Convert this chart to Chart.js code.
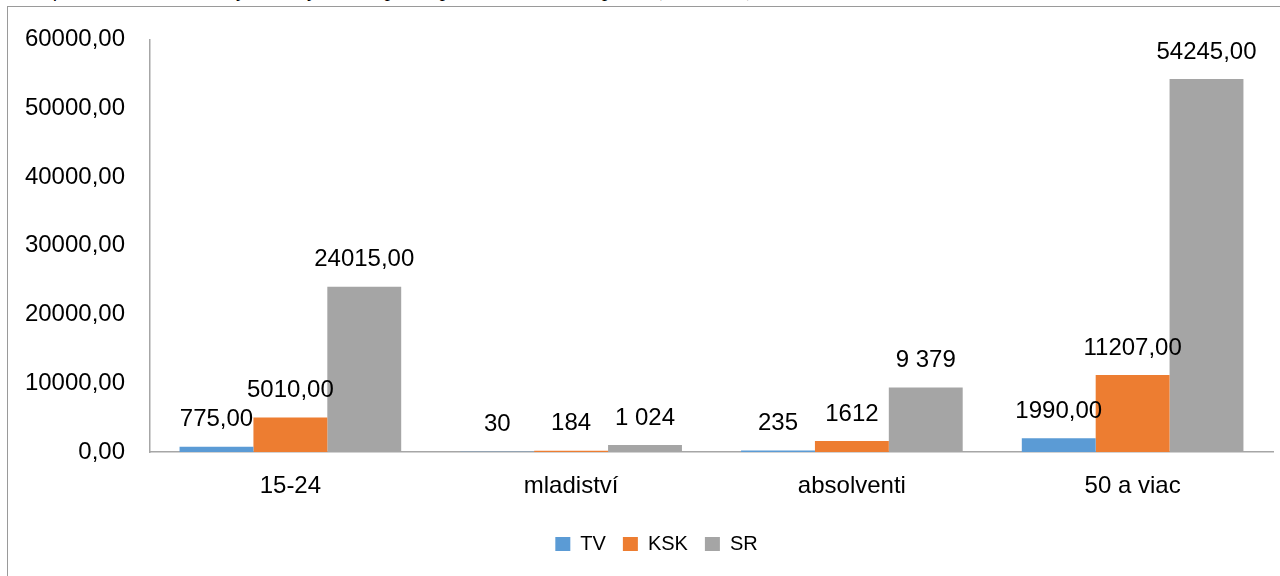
<!DOCTYPE html>
<html>
<head>
<meta charset="utf-8">
<script src="https://cdn.jsdelivr.net/npm/chart.js@4"></script>
<style>
  html, body { margin: 0; padding: 0; background: #ffffff; overflow: hidden; }
  #wrap { position: relative; width: 1280px; height: 576px; overflow: hidden; background: #fff; }
  #frame { position: absolute; left: 7px; top: 6px; width: 1400px; height: 700px;
           border-left: 1px solid #9a9a9a; border-top: 1px solid #9a9a9a; }
  #caption { position: absolute; left: 20px; top: -23px; white-space: nowrap;
             font-family: "Liberation Serif", serif; font-style: italic; font-size: 21px; color: #000; }
  #c { position: absolute; left: 0; top: 0; }
</style>
</head>
<body>
<div id="wrap">
  <div id="caption">Graf č. 7&nbsp;&nbsp;&nbsp;&nbsp;Štruktúra znevýhodnených UoZ podľa postavenia na trhu práce (v osobách)</div>
  <div id="frame"></div>
  <canvas id="c" width="1280" height="576"></canvas>
</div>
<script>
// ---- data ----
const categories = ['15-24', 'mladiství', 'absolventi', '50 a viac'];
const seriesNames = ['TV', 'KSK', 'SR'];
const tvValues  = [775, 30, 235, 1990];
const kskValues = [5010, 184, 1612, 11207];
const srValues  = [24015, 1024, 9379, 54245];
const tvLabels  = ['775,00', '30', '235', '1990,00'];
const kskLabels = ['5010,00', '184', '1612', '11207,00'];
const srLabels  = ['24015,00', '1 024', '9 379', '54245,00'];
const yMin = 0, yMax = 60000, yStep = 10000;

const colors = ['#5B9BD5', '#ED7D31', '#A5A5A5'];
const FONT = '"Liberation Sans", Arial, sans-serif';

const valueLabelPlugin = {
  id: 'valueLabels',
  afterDatasetsDraw(chart) {
    const ctx = chart.ctx;
    ctx.save();
    ctx.font = '24px ' + FONT;
    ctx.fillStyle = '#000';
    ctx.textAlign = 'center';
    ctx.textBaseline = 'middle';
    chart.data.datasets.forEach((ds, di) => {
      const meta = chart.getDatasetMeta(di);
      meta.data.forEach((el, i) => {
        ctx.fillText(ds.valueLabels[i], el.x, el.y - 27);
      });
    });
    ctx.restore();
  }
};

const legendShiftPlugin = {
  id: 'legendShift',
  afterLayout(chart) {
    if (chart.legend) {
      chart.legend.left += 20;
      chart.legend.right += 20;
    }
  }
};

new Chart(document.getElementById('c'), {
  type: 'bar',
  data: {
    labels: categories,
    datasets: [
      { label: seriesNames[0], data: tvValues,  backgroundColor: colors[0], valueLabels: tvLabels },
      { label: seriesNames[1], data: kskValues, backgroundColor: colors[1], valueLabels: kskLabels },
      { label: seriesNames[2], data: srValues,  backgroundColor: colors[2], valueLabels: srLabels }
    ]
  },
  options: {
    responsive: false,
    animation: false,
    devicePixelRatio: 1,
    layout: { padding: { left: 0, right: 7, top: 36, bottom: 12 } },
    datasets: { bar: { categoryPercentage: 3 / 3.8, barPercentage: 1.0, borderWidth: 0 } },
    scales: {
      x: {
        grid: { display: false, drawTicks: false },
        border: { display: true, color: '#a6a6a6', width: 1.5 },
        ticks: { font: { family: FONT, size: 24 }, color: '#000', padding: 20 },
        afterFit(scale) { scale.height = 65; }
      },
      y: {
        min: yMin, max: yMax,
        grid: { display: false, drawTicks: false },
        border: { display: true, color: '#a6a6a6', width: 1.5 },
        ticks: {
          stepSize: yStep,
          font: { family: FONT, size: 24 }, color: '#000', padding: 25,
          callback: (v) => Number(v).toFixed(2).replace('.', ',')
        },
        afterFit(scale) { scale.width = 150; }
      }
    },
    plugins: {
      legend: {
        position: 'bottom',
        labels: { font: { family: FONT, size: 20 }, color: '#000', boxWidth: 15, boxHeight: 14, padding: 17 }
      },
      tooltip: { enabled: false },
      title: { display: false }
    }
  },
  plugins: [valueLabelPlugin, legendShiftPlugin]
});
</script>
</body>
</html>
